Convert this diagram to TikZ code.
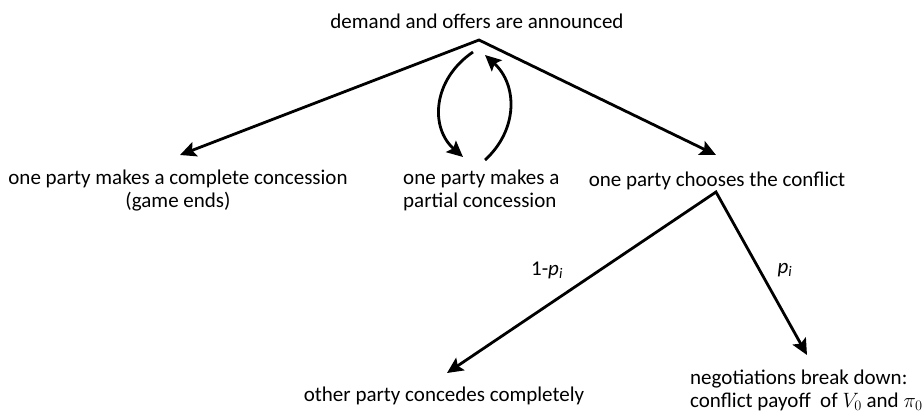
\documentclass[tikz,border=0pt]{standalone}
\usepackage{fontspec}
\setmainfont{Carlito}
\usetikzlibrary{arrows.meta}
\begin{document}
\begin{tikzpicture}[x=1pt,y=-1pt,
  >={Stealth[length=16pt,width=15pt,inset=3pt]},
  lbl/.style={inner sep=0pt, font=\fontsize{21}{23}\selectfont},
  conn/.style={line width=2.8pt, line join=miter, <->},
  arr/.style={line width=2.8pt, ->}]
\useasboundingbox (0,0) rectangle (924,410);
% texts
\node[lbl, anchor=base] (top) at (477,28) {demand and offers are announced};
\node[lbl, anchor=north, align=center] (full) at (178,170) {one party makes a complete concession\\(game ends)};
\node[lbl, anchor=north west, align=left] (partial) at (403,170) {one party makes a\\partial concession};
\node[lbl, anchor=base] (conflict) at (717,186) {one party chooses the conflict};
\node[lbl, anchor=base] (other) at (444,401) {other party concedes completely};
\node[lbl, anchor=north west, align=left] (breakdown) at (690,370) {negotiations break down:\\conflict payoff~ of $V_0$ and $\pi_0$};
\node[lbl] (q) at (547,270) {1-\textit{p}\textsubscript{\textit{i}}};
\node[lbl] (p) at (785,270) {\textit{p}\textsubscript{\textit{i}}};
% connector points
\coordinate (apex) at (479,40);
\coordinate (tipL) at (180,155);
\coordinate (tipR) at (716,155);
\coordinate (apex2) at (716,192);
\coordinate (tipBL) at (447,373);
\coordinate (tipBR) at (807,355);
\coordinate (c1s) at (473,52);
\coordinate (c1e) at (463,157);
\coordinate (c2s) at (485,160);
\coordinate (c2e) at (485,55);
% connectors
\draw[conn] (tipL) -- (apex) -- (tipR);
\draw[conn] (tipBL) -- (apex2) -- (tipBR);
\draw[arr] (c1s) .. controls (432,80) and (430,128) .. (c1e);
\draw[arr] (c2s) .. controls (518,130) and (518,85) .. (c2e);
\end{tikzpicture}
\end{document}
